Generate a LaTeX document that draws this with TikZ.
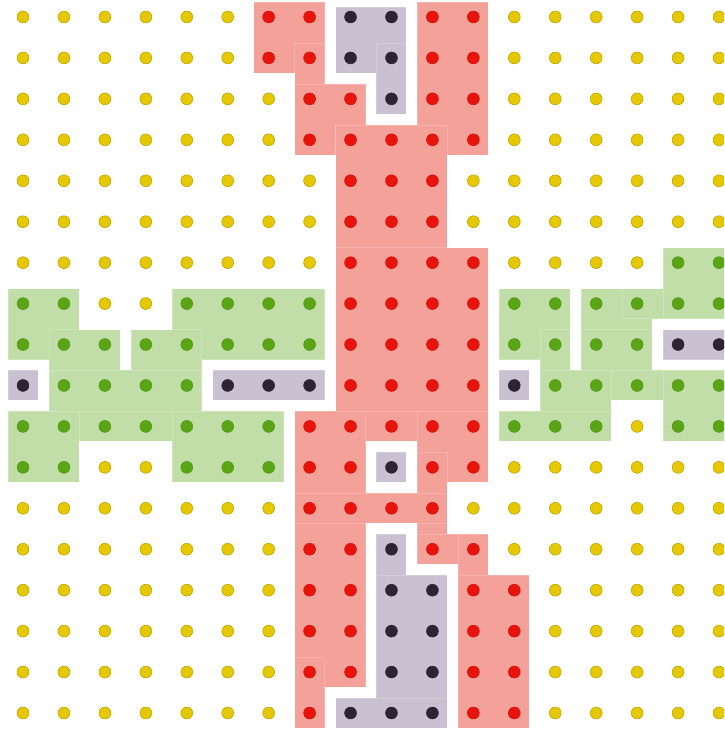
\documentclass[tikz,border=0pt]{standalone}
\usepackage{xcolor}
\usepackage{tikz}
\definecolor{patchred}{HTML}{F4A19A}
\definecolor{patchdark}{HTML}{C9C0D1}
\definecolor{patchgreen}{HTML}{C2DEA8}
\definecolor{dotred}{HTML}{E8140C}
\definecolor{dotdark}{HTML}{2C2434}
\definecolor{dotgreen}{HTML}{5AA516}
\definecolor{dotyellow}{HTML}{E6C800}
\newcommand{\cellpad}{0.366}
\tikzset{
  patch/.style={line width=0.4pt, draw=white, draw opacity=0.2},
  redpatch/.style={patch, fill=patchred},
  darkpatch/.style={patch, fill=patchdark},
  greenpatch/.style={patch, fill=patchgreen},
  pt/.style={circle, inner sep=0pt, minimum size=2.9mm, line width=0.4pt},
  pty/.style={pt, fill=dotyellow, draw=dotyellow!82!black},
  ptr/.style={pt, fill=dotred, draw=dotred!92!black},
  ptd/.style={pt, fill=dotdark, draw=dotdark},
  ptg/.style={pt, fill=dotgreen, draw=dotgreen!92!black},
}

\begin{document}
\begin{tikzpicture}
\clip (-0.562,0.415) rectangle (17.123,-17.391);

\foreach \xa/\ya/\xb/\yb in {6/0/7/1, 7/1/7/2, 7/2/8/3, 8/3/10/3, 10/0/11/3, 8/3/10/9,
    8/6/11/10, 7/10/11/10, 7/10/8/16, 10/10/11/11, 10/11/10/13, 7/12/10/12,
    10/13/11/13, 11/13/11/14, 11/14/12/17, 7/16/7/17}
  \path[redpatch] ({\xa-\cellpad},{-\ya+\cellpad}) rectangle ({\xb+\cellpad},{-\yb-\cellpad});

\path[darkpatch] ({8-\cellpad},0.244) rectangle ({9+\cellpad},{-1-\cellpad});
\foreach \xa/\ya/\xb/\yb in {9/1/9/2, 0/9/0/9, 5/9/7/9, 12/9/12/9, 16/8/17/8,
    9/11/9/11, 9/13/9/17, 9/14/10/17, 8/17/10/17}
  \path[darkpatch] ({\xa-\cellpad},{-\ya+\cellpad}) rectangle ({\xb+\cellpad},{-\yb-\cellpad});

\foreach \xa/\ya/\xb/\yb in {0/7/1/8, 4/7/7/8, 1/8/2/9, 3/8/4/9, 1/9/4/10, 0/10/6/10,
    0/10/1/11, 4/10/6/11, 12/7/13/8, 14/7/15/8, 15/7/16/7, 16/6/17/7,
    13/8/13/9, 14/8/15/9, 13/9/17/9, 13/9/14/10, 12/10/14/10, 16/9/17/10}
  \path[greenpatch] ({\xa-\cellpad},{-\ya+\cellpad}) rectangle ({\xb+\cellpad},{-\yb-\cellpad});

\foreach \r/\cells in {
    0/{y,y,y,y,y,y,r,r,d,d,r,r,y,y,y,y,y,y},
    1/{y,y,y,y,y,y,r,r,d,d,r,r,y,y,y,y,y,y},
    2/{y,y,y,y,y,y,y,r,r,d,r,r,y,y,y,y,y,y},
    3/{y,y,y,y,y,y,y,r,r,r,r,r,y,y,y,y,y,y},
    4/{y,y,y,y,y,y,y,y,r,r,r,y,y,y,y,y,y,y},
    5/{y,y,y,y,y,y,y,y,r,r,r,y,y,y,y,y,y,y},
    6/{y,y,y,y,y,y,y,y,r,r,r,r,y,y,y,y,g,g},
    7/{g,g,y,y,g,g,g,g,r,r,r,r,g,g,g,g,g,g},
    8/{g,g,g,g,g,g,g,g,r,r,r,r,g,g,g,g,d,d},
    9/{d,g,g,g,g,d,d,d,r,r,r,r,d,g,g,g,g,g},
    10/{g,g,g,g,g,g,g,r,r,r,r,r,g,g,g,y,g,g},
    11/{g,g,y,y,g,g,g,r,r,d,r,r,y,y,y,y,y,y},
    12/{y,y,y,y,y,y,y,r,r,r,r,y,y,y,y,y,y,y},
    13/{y,y,y,y,y,y,y,r,r,d,r,r,y,y,y,y,y,y},
    14/{y,y,y,y,y,y,y,r,r,d,d,r,r,y,y,y,y,y},
    15/{y,y,y,y,y,y,y,r,r,d,d,r,r,y,y,y,y,y},
    16/{y,y,y,y,y,y,y,r,r,d,d,r,r,y,y,y,y,y},
    17/{y,y,y,y,y,y,y,r,d,d,d,r,r,y,y,y,y,y}}
  \foreach \k [count=\i from 0] in \cells
    \node[pt\k] (p\r-\i) at (\i,-\r) {};
\end{tikzpicture}
\end{document}
